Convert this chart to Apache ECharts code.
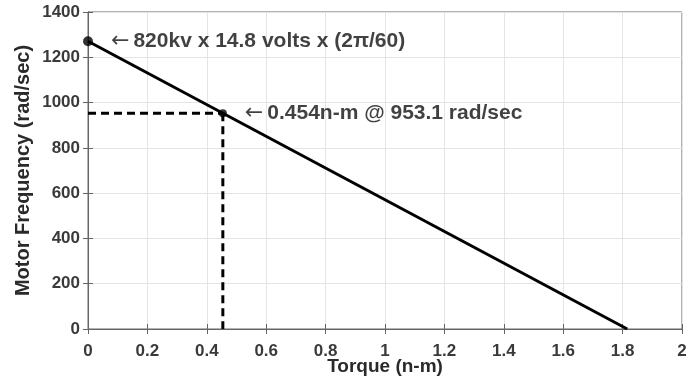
<!DOCTYPE html>
<html><head><meta charset="utf-8">
<script src="https://cdn.jsdelivr.net/npm/echarts@6/dist/echarts.min.js"></script>
<style>html,body{margin:0;padding:0;background:#fff}#c{width:699px;height:377px}</style>
</head><body><div id="c"></div>
<script>
const torque = [0, 1.8156];
const freq = [1270.9, 0];
const noLoadPoint = [0, 1270.9];
const opPoint = [0.454, 953.1];
const noLoadText = '820kv x 14.8 volts x (2\u03c0/60)';
const opText = '0.454n-m @ 953.1 rad/sec';
const xTicks = ['0','0.2','0.4','0.6','0.8','1','1.2','1.4','1.6','1.8','2'];

const chart = echarts.init(document.getElementById('c'));
const F = '"Liberation Sans", Arial, sans-serif';
const axisCol = '#666';
const labelStyle = {color:'#3a3a3a', fontFamily:F, fontWeight:'bold', fontSize:17};
const annRich = {
  a:{fontFamily:'"DejaVu Sans"', fontWeight:'normal', fontSize:22, color:'#111', padding:[0,4,0,0]},
  b:{fontFamily:F, fontWeight:'bold', fontSize:21, color:'#111'}
};
chart.setOption({
  animation:false,
  grid:{left:88,right:17,top:12,bottom:48,show:true,borderColor:axisCol,borderWidth:1,
        containLabel:false,outerBoundsMode:'none'},
  xAxis:[{type:'value',min:0,max:2,interval:0.2,
    axisLine:{show:true,onZero:false,lineStyle:{color:axisCol}},
    axisTick:{show:true,inside:true,length:5,lineStyle:{color:axisCol}},
    splitLine:{show:true,lineStyle:{color:'#e4e4e4'}},
    axisLabel:Object.assign({margin:14,formatter:(v)=>xTicks[Math.round(v/0.2)]},labelStyle),
    name:'Torque (n-m)',nameLocation:'middle',nameGap:28,nameMoveOverlap:false,
    nameTextStyle:{color:'#2a2a2a',fontFamily:F,fontWeight:'bold',fontSize:19}},
   {type:'value',position:'top',min:0,max:2,interval:0.2,
    axisLine:{show:true,lineStyle:{color:axisCol}},
    axisTick:{show:true,inside:true,length:5,lineStyle:{color:axisCol}},
    axisLabel:{show:false},splitLine:{show:false}}],
  yAxis:[{type:'value',min:0,max:1400,interval:200,
    axisLine:{show:true,onZero:false,lineStyle:{color:axisCol}},
    axisTick:{show:true,inside:true,length:5,lineStyle:{color:axisCol}},
    splitLine:{show:true,lineStyle:{color:'#e4e4e4'}},
    axisLabel:Object.assign({margin:8,formatter:(v)=>String(v)},labelStyle),
    name:'Motor Frequency (rad/sec)',nameLocation:'middle',nameGap:55,nameMoveOverlap:false,
    nameTextStyle:{color:'#2a2a2a',fontFamily:F,fontWeight:'bold',fontSize:20}},
   {type:'value',position:'right',min:0,max:1400,interval:200,
    axisLine:{show:true,lineStyle:{color:axisCol}},
    axisTick:{show:true,inside:true,length:5,lineStyle:{color:axisCol}},
    axisLabel:{show:false},splitLine:{show:false}}],
  series:[
    {type:'line',data:torque.map((t,i)=>[t,freq[i]]),symbol:'none',
     lineStyle:{color:'#000',width:3},z:3},
    {type:'line',data:[[0,opPoint[1]],opPoint],symbol:'none',
     lineStyle:{color:'#000',width:3,type:[8,5]},z:2},
    {type:'line',data:[opPoint,[opPoint[0],0]],symbol:'none',
     lineStyle:{color:'#000',width:3,type:[8,5]},z:2},
    {type:'scatter',data:[noLoadPoint],symbolSize:10,itemStyle:{color:'#000'},z:5,
     label:{show:true,position:'right',distance:18,formatter:'{a|\u2190}{b|'+noLoadText+'}',rich:annRich}},
    {type:'scatter',data:[opPoint],symbolSize:8,itemStyle:{color:'#000'},z:5,
     label:{show:true,position:'right',distance:18,formatter:'{a|\u2190}{b|'+opText+'}',rich:annRich}}
  ]
});
</script></body></html>
